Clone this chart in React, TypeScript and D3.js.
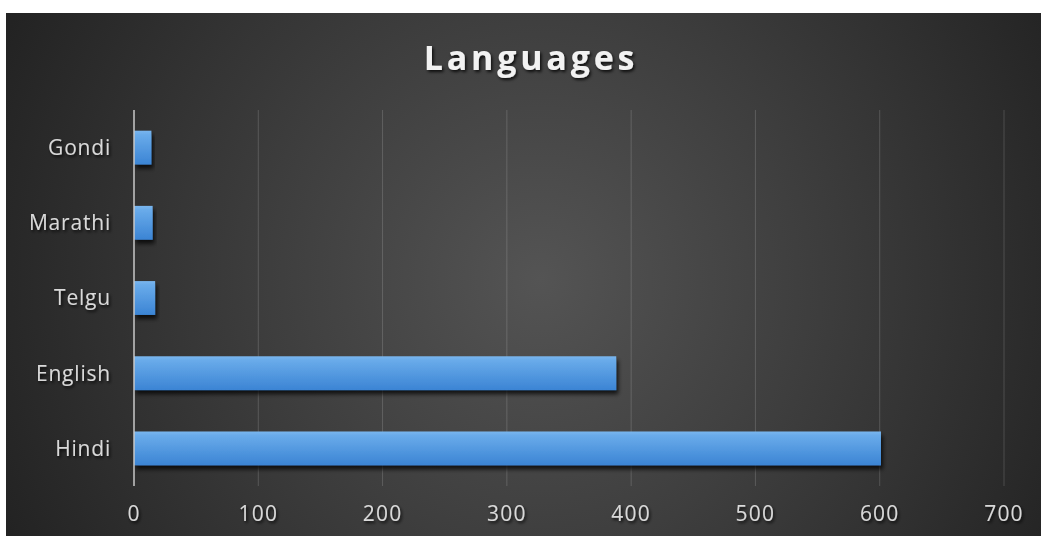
import React from "react";
import * as d3 from "d3";

const categories = ["Gondi", "Marathi", "Telgu", "English", "Hindi"];
const values = [14, 15, 17, 388, 601];
const xTicks = [0, 100, 200, 300, 400, 500, 600, 700];
const title = "Languages";

const W = 1043;
const H = 536;
const bg = { x: 6, y: 13, w: 1035, h: 523 };
const plot = { left: 134, right: 1004, top: 110, bottom: 486 };

export default function App() {
  const x = d3.scaleLinear().domain([0, 700]).range([plot.left, plot.right]);
  const y = d3
    .scaleBand<string>()
    .domain(categories)
    .range([plot.top, plot.bottom])
    .paddingInner(0.55)
    .paddingOuter(0.275);
  const font = "'Open Sans', 'DejaVu Sans', sans-serif";
  return (
    <svg
      width={W}
      height={H}
      style={{ position: "absolute", left: 0, top: 0, display: "block" }}
    >
      <defs>
        <radialGradient id="bgGrad" gradientUnits="userSpaceOnUse" cx={540} cy={280} r={600}>
          <stop offset="0%" stopColor="#545454" />
          <stop offset="45%" stopColor="#3e3e3e" />
          <stop offset="100%" stopColor="#222222" />
        </radialGradient>
        <linearGradient id="barGrad" x1="0" y1="0" x2="0" y2="1">
          <stop offset="0%" stopColor="#7ab6ee" />
          <stop offset="12%" stopColor="#69abea" />
          <stop offset="100%" stopColor="#3b84d4" />
        </linearGradient>
        <filter id="barShadow" x="-10%" y="-30%" width="130%" height="180%">
          <feDropShadow dx="2" dy="4" stdDeviation="2" floodColor="#000" floodOpacity="0.75" />
        </filter>
        <filter id="textShadow" x="-10%" y="-30%" width="130%" height="180%">
          <feDropShadow dx="1.5" dy="2" stdDeviation="1.5" floodColor="#000" floodOpacity="0.8" />
        </filter>
      </defs>
      <rect x={0} y={0} width={W} height={H} fill="#ffffff" />
      <rect x={bg.x} y={bg.y} width={bg.w} height={bg.h} fill="url(#bgGrad)" />
      <text
        x={531}
        y={70}
        textAnchor="middle"
        fill="#f2f2f2"
        fontFamily={font}
        fontWeight="bold"
        fontSize={34}
        letterSpacing={3.8}
        filter="url(#textShadow)"
      >
        {title}
      </text>
      {xTicks.slice(1).map((t) => (
        <line
          key={"g" + t}
          x1={x(t)}
          x2={x(t)}
          y1={plot.top}
          y2={plot.bottom}
          stroke="#ffffff"
          strokeOpacity={0.16}
          strokeWidth={1}
        />
      ))}
      {categories.map((c, i) => (
        <rect
          key={c}
          x={x(0)}
          y={y(c)}
          width={x(values[i]) - x(0)}
          height={y.bandwidth()}
          fill="url(#barGrad)"
          filter="url(#barShadow)"
        />
      ))}
      <line
        x1={x(0)}
        x2={x(0)}
        y1={plot.top}
        y2={plot.bottom}
        stroke="#c8c8c8"
        strokeWidth={1.5}
      />
      {categories.map((c) => (
        <text
          key={"l" + c}
          x={111}
          y={(y(c) as number) + y.bandwidth() / 2}
          dy="0.35em"
          textAnchor="end"
          fill="#d9d9d9"
          fontFamily={font}
          fontSize={21}
          letterSpacing={0.8}
          filter="url(#textShadow)"
        >
          {c}
        </text>
      ))}
      {xTicks.map((t) => (
        <text
          key={"t" + t}
          x={x(t)}
          y={514}
          dy="0.35em"
          textAnchor="middle"
          fill="#d9d9d9"
          fontFamily={font}
          fontSize={21}
          letterSpacing={1.2}
          filter="url(#textShadow)"
        >
          {t}
        </text>
      ))}
    </svg>
  );
}
